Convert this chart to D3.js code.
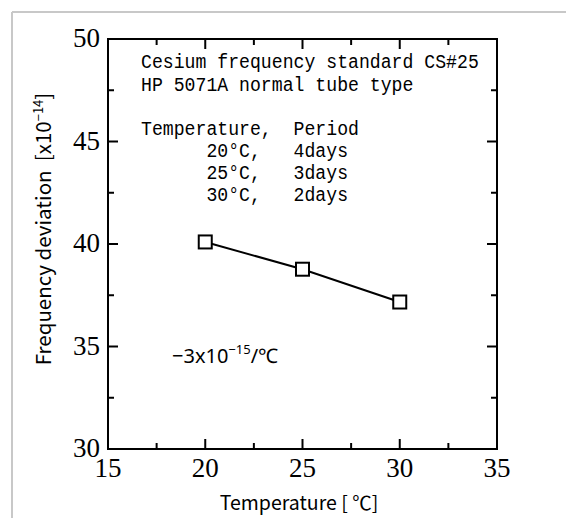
<!DOCTYPE html>
<html><head><meta charset="utf-8">
<script src="https://cdn.jsdelivr.net/npm/d3@7"></script>
<style>
html,body{margin:0;padding:0;background:#fff;}
svg{display:block;}
.mono{font-family:"Liberation Mono","DejaVu Sans Mono",monospace;white-space:pre;}
.pre{white-space:pre;}
</style></head>
<body>
<script>
const temperatures = [20, 25, 30];
const deviations = [40.1, 38.77, 37.17];
const xTicks = [15, 20, 25, 30, 35];
const yTicks = [30, 35, 40, 45, 50];
const xMinor = [17.5, 22.5, 27.5, 32.5];
const yMinor = [32.5, 37.5, 42.5, 47.5];
const noteLines = [
  "Cesium frequency standard CS#25",
  "HP 5071A normal tube type",
  "",
  "Temperature,  Period",
  "      20°C,   4days",
  "      25°C,   3days",
  "      30°C,   2days"
];

const W = 566, H = 518;
const svg = d3.select("body").append("svg").attr("width", W).attr("height", H);
svg.append("rect").attr("width", W).attr("height", H).attr("fill", "#fff");
svg.append("line").attr("x1", 12).attr("x2", W).attr("y1", 12).attr("y2", 12).attr("stroke", "#c8c8c8").attr("stroke-width", 2);
svg.append("line").attr("x1", 12).attr("x2", 12).attr("y1", 12).attr("y2", H).attr("stroke", "#c8c8c8").attr("stroke-width", 2);

const L = 108, R = 497, T = 39, B = 449;
const x = d3.scaleLinear().domain([15, 35]).range([L, R]);
const y = d3.scaleLinear().domain([30, 50]).range([B, T]);

const g = svg.append("g");
g.append("rect").attr("x", L).attr("y", T).attr("width", R - L).attr("height", B - T)
  .attr("fill", "none").attr("stroke", "#000").attr("stroke-width", 2);

function ticks(vals, len) {
  vals.forEach(v => {
    g.append("line").attr("x1", x(v)).attr("x2", x(v)).attr("y1", B).attr("y2", B - len).attr("stroke", "#000").attr("stroke-width", 2);
    g.append("line").attr("x1", x(v)).attr("x2", x(v)).attr("y1", T).attr("y2", T + len).attr("stroke", "#000").attr("stroke-width", 2);
  });
}
function yticks(vals, len) {
  vals.forEach(v => {
    g.append("line").attr("y1", y(v)).attr("y2", y(v)).attr("x1", L).attr("x2", L + len).attr("stroke", "#000").attr("stroke-width", 2);
    g.append("line").attr("y1", y(v)).attr("y2", y(v)).attr("x1", R).attr("x2", R - len).attr("stroke", "#000").attr("stroke-width", 2);
  });
}
ticks(xTicks, 10); ticks(xMinor, 6);
yticks(yTicks, 10); yticks(yMinor, 6);

g.selectAll(".xl").data(xTicks).enter().append("text")
  .attr("x", d => x(d)).attr("y", 477).attr("text-anchor", "middle")
  .attr("font-family", "Liberation Serif, serif").attr("font-size", 27).text(d => d);
g.selectAll(".yl").data(yTicks).enter().append("text")
  .attr("x", 100).attr("y", d => y(d) + 8).attr("text-anchor", "end")
  .attr("font-family", "Liberation Serif, serif").attr("font-size", 27).text(d => d);

const xt = svg.append("text").attr("x", 299).attr("y", 510).attr("text-anchor", "middle")
  .attr("font-family", "Noto Sans CJK JP, Noto Sans, sans-serif").attr("font-size", 19.5).attr("class", "pre");
xt.text("Temperature [ ℃]");
const yt = svg.append("text").attr("transform", "translate(51,229) rotate(-90)").attr("text-anchor", "middle")
  .attr("font-family", "Noto Sans CJK JP, Noto Sans, sans-serif").attr("font-size", 20.5).attr("class", "pre");
yt.append("tspan").text("Frequency deviation  [x10");
yt.append("tspan").attr("dy", -8).attr("font-size", 13).text("−14");
yt.append("tspan").attr("dy", 8).text("]");

const baselines = [68, 91, 113, 135, 157, 179, 201];
noteLines.forEach((t, i) => {
  if (!t) return;
  svg.append("g").attr("transform", `translate(141,${baselines[i]}) scale(0.865,1)`)
    .append("text").attr("class", "mono").attr("font-size", 21).text(t);
});

const sl = svg.append("text").attr("x", 172).attr("y", 363)
  .attr("font-family", "Noto Sans, sans-serif").attr("font-size", 20);
sl.append("tspan").text("−3x10");
sl.append("tspan").attr("dy", -9).attr("font-size", 13).text("−15");
sl.append("tspan").attr("dy", 9).text("/℃");

const pts = temperatures.map((t, i) => [t, deviations[i]]);
g.append("path").datum(pts)
  .attr("d", d3.line().x(d => x(d[0])).y(d => y(d[1])))
  .attr("fill", "none").attr("stroke", "#000").attr("stroke-width", 2);
const s = 13;
g.selectAll(".pt").data(pts).enter().append("rect")
  .attr("x", d => x(d[0]) - s / 2).attr("y", d => y(d[1]) - s / 2)
  .attr("width", s).attr("height", s)
  .attr("fill", "#fff").attr("stroke", "#000").attr("stroke-width", 2);
</script>
</body></html>
